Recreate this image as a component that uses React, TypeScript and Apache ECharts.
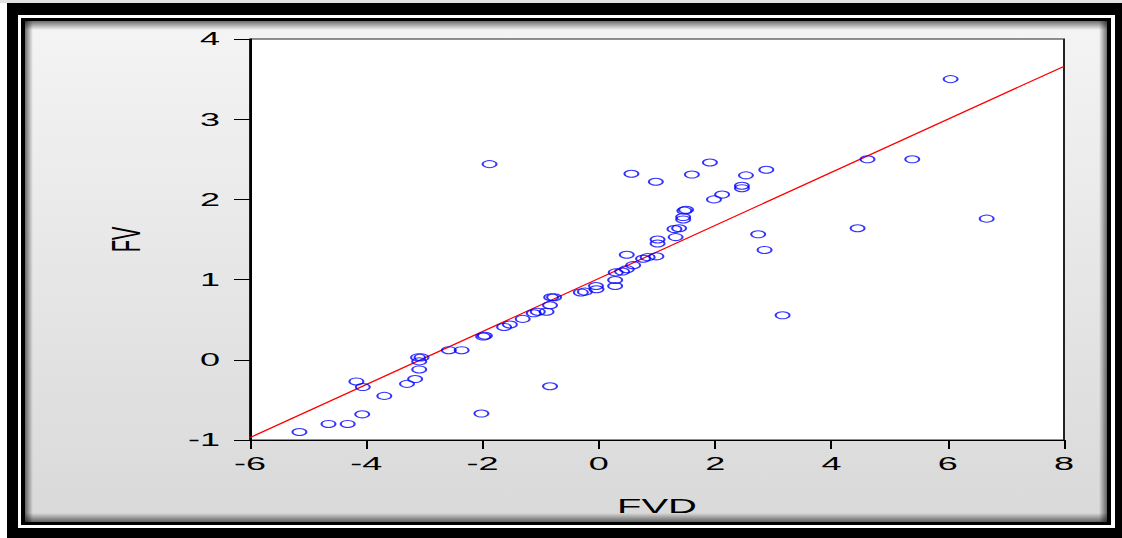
import React, { useEffect, useRef } from "react";
import * as echarts from "echarts";

// Scatter data (FVD on x, FV on y)
const FVD = [
  -5.15, -4.65, -4.32, -4.07, -4.17, -4.06, -3.69, -3.3, -3.16, -3.09,
  -3.09, -3.11, -3.05, -2.58, -2.36, -2.02, -1.99, -1.96, -1.88, -1.63,
  -1.53, -1.31, -1.12, -1.05, -0.9, -0.84, -0.82, -0.77, -0.84, -0.31,
  -0.24, -0.05, -0.04, 0.28, 0.28, 0.29, 0.4, 0.48, 0.59, 0.48,
  0.56, 0.76, 0.84, 0.99, 0.98, 1.01, 1.01, 1.32, 1.3, 1.38,
  1.45, 1.45, 1.47, 1.5, 1.6, 1.91, 1.98, 2.12, 2.46, 2.46,
  2.53, 2.74, 2.85, 2.88, 3.16, 4.45, 4.62, 5.39, 6.05, 6.67,
];
const FV = [
  -0.9, -0.8, -0.8, -0.68, -0.27, -0.34, -0.45, -0.3, -0.24, -0.12,
  -0.02, 0.03, 0.03, 0.12, 0.12, -0.67, 0.29, 0.3, 2.44, 0.41,
  0.44, 0.51, 0.58, 0.6, 0.6, 0.68, 0.78, 0.78, -0.33, 0.84,
  0.85, 0.92, 0.88, 0.92, 0.995, 1.09, 1.1, 1.13, 1.18, 1.31,
  2.32, 1.26, 1.28, 1.29, 2.22, 1.45, 1.5, 1.53, 1.63, 1.64,
  1.75, 1.78, 1.86, 1.87, 2.31, 2.46, 2.0, 2.06, 2.14, 2.17,
  2.3, 1.565, 1.37, 2.37, 0.555, 1.64, 2.5, 2.5, 3.5, 1.76,
];

// Fitted regression line end points
const FIT_X = [-6, 8];
const FIT_Y = [-0.97, 3.66];

// Axis ranges
const X_RANGE = { min: -6, max: 8, interval: 2 };
const Y_RANGE = { min: -1, max: 4, interval: 1 };

const FONT = "Liberation Sans, Arial, sans-serif";

export default function App() {
  const ref = useRef<HTMLDivElement>(null);

  useEffect(() => {
    document.body.style.margin = "0";
    const chart = echarts.init(ref.current as HTMLDivElement, null, { renderer: "svg" });

    const scatterData = FVD.map((x, i) => [x, FV[i]]);
    const lineData = FIT_X.map((x, i) => [x, FIT_Y[i]]);

    const shadow = (x: number, y: number, w: number, h: number, gx: number[], z: number) => ({
      type: "rect",
      silent: true,
      z,
      shape: { x, y, width: w, height: h },
      style: {
        fill: new echarts.graphic.LinearGradient(gx[0], gx[1], gx[2], gx[3], [
          { offset: 0, color: "rgba(0,0,0,0.55)" },
          { offset: 1, color: "rgba(0,0,0,0)" },
        ]),
      },
    });

    chart.setOption({
      animation: false,
      backgroundColor: "#ffffff",
      graphic: {
        elements: [
          { type: "rect", silent: true, z: -20, shape: { x: 0, y: 0, width: 561, height: 3 }, style: { fill: "#e2e2e2" } },
          { type: "rect", silent: true, z: -19, shape: { x: 3.5, y: 3, width: 557.5, height: 535 }, style: { fill: "#000" } },
          { type: "rect", silent: true, z: -18, shape: { x: 9, y: 15, width: 548.5, height: 513 }, style: { fill: "#fff" } },
          { type: "rect", silent: true, z: -17, shape: { x: 10.5, y: 18, width: 545, height: 507 }, style: { fill: "#000" } },
          {
            type: "rect",
            silent: true,
            z: -16,
            shape: { x: 12.5, y: 21, width: 541, height: 501 },
            style: {
              fill: new echarts.graphic.LinearGradient(0, 0, 0, 1, [
                { offset: 0, color: "#f4f4f4" },
                { offset: 1, color: "#d9d9d9" },
              ]),
            },
          },
          shadow(12.5, 21, 541, 9, [0, 0, 0, 1], -15),
          shadow(12.5, 513, 541, 9, [0, 1, 0, 0], -15),
          shadow(12.5, 21, 4, 501, [0, 0, 1, 0], -15),
          shadow(549.5, 21, 4, 501, [1, 0, 0, 0], -15),
        ],
      },
      grid: {
        left: 125,
        right: 29,
        top: 39,
        bottom: 98,
        show: true,
        backgroundColor: "#ffffff",
        borderColor: "#222",
        borderWidth: 1,
      },
      xAxis: {
        type: "value",
        min: X_RANGE.min,
        max: X_RANGE.max,
        interval: X_RANGE.interval,
        name: "FVD",
        nameLocation: "middle",
        nameGap: 56,
        nameTextStyle: { fontFamily: FONT, fontSize: 20, color: "#000" },
        axisLine: { show: true, onZero: false, lineStyle: { color: "#000", width: 1 } },
        axisTick: { show: true, inside: false, length: 9, lineStyle: { color: "#000", width: 1 } },
        axisLabel: { margin: 15, fontFamily: FONT, fontSize: 18, color: "#000" },
        splitLine: { show: false },
      },
      yAxis: {
        type: "value",
        min: Y_RANGE.min,
        max: Y_RANGE.max,
        interval: Y_RANGE.interval,
        name: "FV",
        nameLocation: "middle",
        nameRotate: 90,
        nameGap: 52,
        nameTextStyle: { fontFamily: FONT, fontSize: 20, color: "#000" },
        axisLine: { show: true, onZero: false, lineStyle: { color: "#000", width: 1 } },
        axisTick: { show: true, inside: false, length: 8, lineStyle: { color: "#000", width: 1 } },
        axisLabel: { margin: 15, fontFamily: FONT, fontSize: 18, color: "#000" },
        splitLine: { show: false },
      },
      series: [
        {
          type: "line",
          data: lineData,
          symbol: "none",
          z: 2,
          lineStyle: { color: "#ff0000", width: 1 },
          silent: true,
        },
        {
          type: "scatter",
          data: scatterData,
          symbol: "circle",
          symbolSize: 7,
          z: 3,
          itemStyle: { color: "rgba(0,0,0,0)", borderColor: "#0000ff", borderWidth: 1 },
        },
      ],
    });

    return () => chart.dispose();
  }, []);

  return (
    <div style={{ width: 1122, height: 538, overflow: "hidden", background: "#fff", position: "relative" }}>
      <div
        ref={ref}
        style={{ width: 561, height: 538, transform: "scaleX(2)", transformOrigin: "0 0" }}
      />
    </div>
  );
}
